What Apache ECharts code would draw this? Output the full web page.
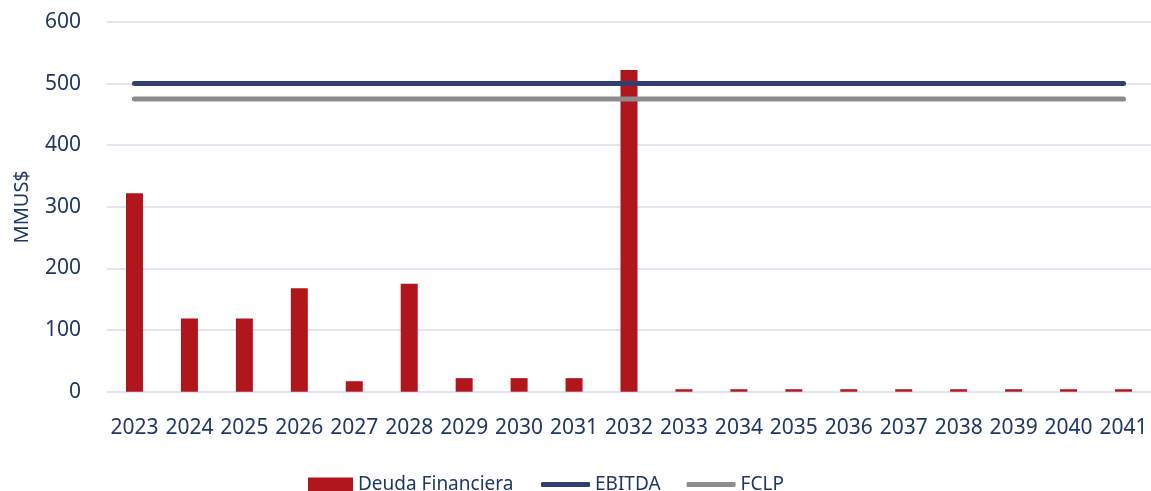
<!DOCTYPE html>
<html>
<head>
<meta charset="utf-8">
<script src="https://cdn.jsdelivr.net/npm/echarts@6/dist/echarts.min.js"></script>
<style>
html,body{margin:0;padding:0;background:#fff;}
#chart{width:1151px;height:491px;}
</style>
</head>
<body>
<div id="chart"></div>
<script>
var years = ['2023','2024','2025','2026','2027','2028','2029','2030','2031','2032','2033','2034','2035','2036','2037','2038','2039','2040','2041'];
var deuda = [322, 119, 119, 168, 17, 175, 22, 22, 22, 522, 4, 4, 4, 4, 4, 4, 4, 4, 4];
var ebitda = [500, 500, 500, 500, 500, 500, 500, 500, 500, 500, 500, 500, 500, 500, 500, 500, 500, 500, 500];
var fclp = [475, 475, 475, 475, 475, 475, 475, 475, 475, 475, 475, 475, 475, 475, 475, 475, 475, 475, 475];
var yTicks = {min: 0, max: 600, interval: 100};

var navy = '#1F3864';
var font = 'Noto Sans';
var chart = echarts.init(document.getElementById('chart'), null, {renderer: 'canvas'});
chart.setOption({
  animation: false,
  textStyle: {fontFamily: font},
  grid: {left: 107, width: 1045, top: 22, bottom: 99.3, containLabel: false},
  legend: [
    {
      left: 303, top: 470,
      itemWidth: 45, itemHeight: 14,
      textStyle: {color: navy, fontSize: 19, fontFamily: font},
      data: [{name: 'Deuda Financiera', icon: 'rect'}]
    },
    {
      left: 536, top: 470,
      itemWidth: 49, itemHeight: 5, itemGap: 26,
      icon: 'roundRect',
      textStyle: {color: navy, fontSize: 19, fontFamily: font},
      data: [{name: 'EBITDA'}, {name: 'FCLP'}]
    }
  ],
  xAxis: {
    type: 'category',
    data: years,
    axisLine: {show: false},
    axisTick: {show: false},
    axisLabel: {color: navy, fontSize: 21, margin: 26, fontFamily: font, interval: 0}
  },
  yAxis: {
    type: 'value',
    min: yTicks.min, max: yTicks.max, interval: yTicks.interval,
    name: 'MMUS$',
    nameLocation: 'middle',
    nameGap: 75,
    nameTextStyle: {color: navy, fontSize: 20, fontFamily: font},
    axisLine: {show: false},
    axisTick: {show: false},
    axisLabel: {color: navy, fontSize: 21, margin: 26, fontFamily: font},
    splitLine: {lineStyle: {color: '#D9DCEB', width: 1.5}}
  },
  series: [
    {
      name: 'Deuda Financiera', type: 'bar', data: deuda,
      barWidth: 17,
      itemStyle: {color: '#B0161C'}
    },
    {
      name: 'EBITDA', type: 'line', data: ebitda,
      symbol: 'none', showSymbol: false,
      lineStyle: {color: '#323F6D', width: 5, cap: 'round'},
      itemStyle: {color: '#323F6D'}
    },
    {
      name: 'FCLP', type: 'line', data: fclp,
      symbol: 'none', showSymbol: false,
      lineStyle: {color: '#8C8C8C', width: 5, cap: 'round'},
      itemStyle: {color: '#8C8C8C'}
    }
  ]
});
</script>
</body>
</html>
